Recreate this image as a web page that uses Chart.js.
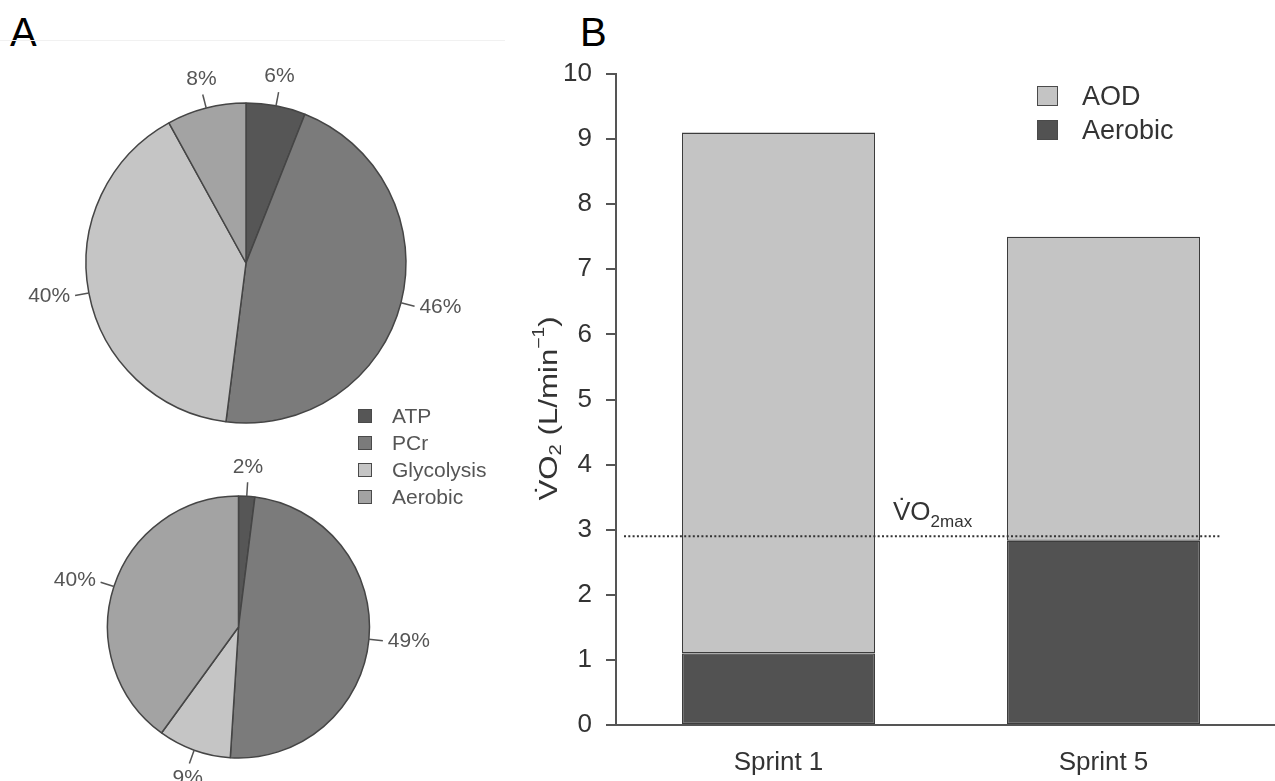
<!doctype html>
<html>
<head>
<meta charset="utf-8">
<script src="https://cdn.jsdelivr.net/npm/chart.js@4.4.1/dist/chart.umd.min.js"></script>
<style>
  body { margin: 0; width: 1275px; height: 781px; overflow: hidden; position: relative; background: #fff;
         font-family: "Liberation Sans", Arial, sans-serif; }
  .abs { position: absolute; }
  .panel { font-size: 40px; line-height: 40px; color: #000; }
  .rule { left: 0; top: 40px; width: 505px; border-top: 1px solid #f1f1f1; }
  .legend .row { display: flex; align-items: center; }
  .legend .sw { box-sizing: border-box; border: 1px solid #4a4a4a; }
  #pieLegend { left: 358px; top: 402px; color: #555; font-size: 21px; }
  #pieLegend .row { height: 27px; }
  #pieLegend .sw { width: 14px; height: 14px; margin-right: 20px; }
  #barLegend { left: 1037px; top: 79px; color: #333; font-size: 27px; }
  #barLegend .row { height: 34px; }
  #barLegend .sw { width: 21px; height: 20px; margin-right: 24px; }
</style>
</head>
<body>

<div class="abs panel" style="left:10px; top:12px">A</div>
<div class="abs panel" style="left:580px; top:12px">B</div>
<div class="abs rule"></div>

<canvas id="pieTop" class="abs" width="492" height="420" style="left:0; top:53px"></canvas>
<canvas id="pieBottom" class="abs" width="477" height="360" style="left:0; top:447px"></canvas>
<canvas id="bars" class="abs" width="755" height="781" style="left:520px; top:0"></canvas>

<div id="pieLegend" class="abs legend"></div>
<div id="barLegend" class="abs legend"></div>

<script>
// panel A: energy contribution (%), clockwise from 12 o'clock
const energySources = ['ATP', 'PCr', 'Glycolysis', 'Aerobic'];
const sourceColors = ['#565656', '#7b7b7b', '#c5c5c5', '#a3a3a3'];
const sprint1Share = [6, 46, 40, 8];
const sprint5Share = [2, 49, 9, 40];

// panel B: VO2 (L/min), stacked
const sprints = ['Sprint 1', 'Sprint 5'];
const aerobicVO2 = [1.1, 2.83];
const aodVO2 = [8.0, 4.67];
const vo2max = 2.9;
const barSeries = ['AOD', 'Aerobic'];
const barColors = ['#c4c4c4', '#525252'];

const FONT = '"Liberation Sans", Arial, sans-serif';

// percent labels with short leader lines
const pieLabels = {
  id: 'pieLabels',
  afterDatasetsDraw(chart) {
    const ctx = chart.ctx;
    const meta = chart.getDatasetMeta(0);
    const values = chart.data.datasets[0].data;
    ctx.save();
    ctx.strokeStyle = '#555';
    ctx.fillStyle = '#555';
    ctx.lineWidth = 1.5;
    ctx.font = '21px ' + FONT;
    meta.data.forEach((arc, i) => {
      const mid = (arc.startAngle + arc.endAngle) / 2;
      const c = Math.cos(mid), s = Math.sin(mid);
      const r = arc.outerRadius;
      ctx.beginPath();
      ctx.moveTo(arc.x + c * r, arc.y + s * r);
      ctx.lineTo(arc.x + c * (r + 14), arc.y + s * (r + 14));
      ctx.stroke();
      const tx = arc.x + c * (r + 19), ty = arc.y + s * (r + 19);
      ctx.textAlign = c > 0.4 ? 'left' : (c < -0.4 ? 'right' : 'center');
      ctx.textBaseline = s < -0.4 ? 'bottom' : (s > 0.4 ? 'top' : 'middle');
      ctx.fillText(values[i] + '%', tx, ty);
    });
    ctx.restore();
  }
};

function makePie(id, values, radius) {
  return new Chart(document.getElementById(id), {
    type: 'pie',
    data: {
      labels: energySources,
      datasets: [{
        data: values,
        backgroundColor: sourceColors,
        borderColor: '#454545',
        borderWidth: 1.5
      }]
    },
    options: {
      responsive: false,
      animation: false,
      radius: radius,
      layout: { padding: 0 },
      plugins: { legend: { display: false }, tooltip: { enabled: false } }
    },
    plugins: [pieLabels]
  });
}

makePie('pieTop', sprint1Share, 160);
makePie('pieBottom', sprint5Share, 131);

// html legends
document.getElementById('pieLegend').innerHTML = energySources.map((name, i) =>
  '<div class="row"><div class="sw" style="background:' + sourceColors[i] + '"></div>' + name + '</div>').join('');
document.getElementById('barLegend').innerHTML = barSeries.map((name, i) =>
  '<div class="row"><div class="sw" style="background:' + barColors[i] + '"></div>' + name + '</div>').join('');

// dotted VO2max line, its label, the y title and the long baseline
const barExtras = {
  id: 'barExtras',
  afterDraw(chart) {
    const ctx = chart.ctx;
    const area = chart.chartArea;
    const y = chart.scales.y;
    const bars = chart.getDatasetMeta(1).data;
    const y0 = y.getPixelForValue(0);

    ctx.save();
    // x axis line runs on to the edge
    ctx.strokeStyle = '#555';
    ctx.lineWidth = 2;
    ctx.beginPath();
    ctx.moveTo(area.right - 1, y0);
    ctx.lineTo(chart.width, y0);
    ctx.stroke();

    // VO2max reference
    const ym = y.getPixelForValue(vo2max);
    const last = bars[bars.length - 1];
    ctx.strokeStyle = '#333';
    ctx.setLineDash([2, 2.3]);
    ctx.beginPath();
    ctx.moveTo(area.left + 8, ym);
    ctx.lineTo(last.x + last.width / 2 + 20, ym);
    ctx.stroke();
    ctx.setLineDash([]);

    const lx = bars[0].x + bars[0].width / 2 + 18;
    ctx.fillStyle = '#333';
    ctx.textAlign = 'left';
    ctx.textBaseline = 'alphabetic';
    ctx.font = '26px ' + FONT;
    ctx.fillText('V\u0307O', lx, ym - 16);
    const w = ctx.measureText('V\u0307O').width;
    ctx.font = '17px ' + FONT;
    ctx.fillText('2max', lx + w, ym - 9);

    // rotated y title
    ctx.translate(28, (area.top + area.bottom) / 2 + 9);
    ctx.rotate(-Math.PI / 2);
    ctx.scale(1.2, 1);
    const parts = [
      ['V\u0307O', 26, 0], ['2', 17, 6], [' (L/min', 26, 0], ['\u22121', 16, -10], [')', 26, 0]
    ];
    let total = 0;
    parts.forEach(p => { ctx.font = p[1] + 'px ' + FONT; total += ctx.measureText(p[0]).width; });
    let x = -total / 2;
    ctx.textBaseline = 'middle';
    parts.forEach(p => {
      ctx.font = p[1] + 'px ' + FONT;
      ctx.fillText(p[0], x, p[2] + 2);
      x += ctx.measureText(p[0]).width;
    });
    ctx.restore();
  }
};

new Chart(document.getElementById('bars'), {
  type: 'bar',
  data: {
    labels: sprints,
    datasets: [
      { label: 'Aerobic', data: aerobicVO2, backgroundColor: barColors[1] },
      { label: 'AOD', data: aodVO2, backgroundColor: barColors[0] }
    ]
  },
  options: {
    responsive: false,
    animation: false,
    layout: { padding: { top: 74, right: 9, bottom: 0, left: 0 } },
    datasets: {
      bar: {
        borderColor: '#3c3c3c',
        borderWidth: 1.3,
        borderSkipped: false,
        barPercentage: 0.594,
        categoryPercentage: 1
      }
    },
    plugins: { legend: { display: false }, tooltip: { enabled: false } },
    scales: {
      x: {
        stacked: true,
        grid: { display: false, drawTicks: false },
        border: { display: true, color: '#555', width: 2 },
        ticks: { padding: 22, color: '#333', font: { family: FONT, size: 26 } },
        afterFit(scale) { scale.height = 56; }
      },
      y: {
        stacked: true,
        min: 0,
        max: 10,
        grid: { drawOnChartArea: false, tickLength: 10, color: '#555', lineWidth: 2 },
        border: { display: true, color: '#555', width: 2 },
        ticks: { stepSize: 1, padding: 14, color: '#333', font: { family: FONT, size: 26 } },
        afterFit(scale) { scale.width = 96; }
      }
    }
  },
  plugins: [barExtras]
});
</script>
</body>
</html>
